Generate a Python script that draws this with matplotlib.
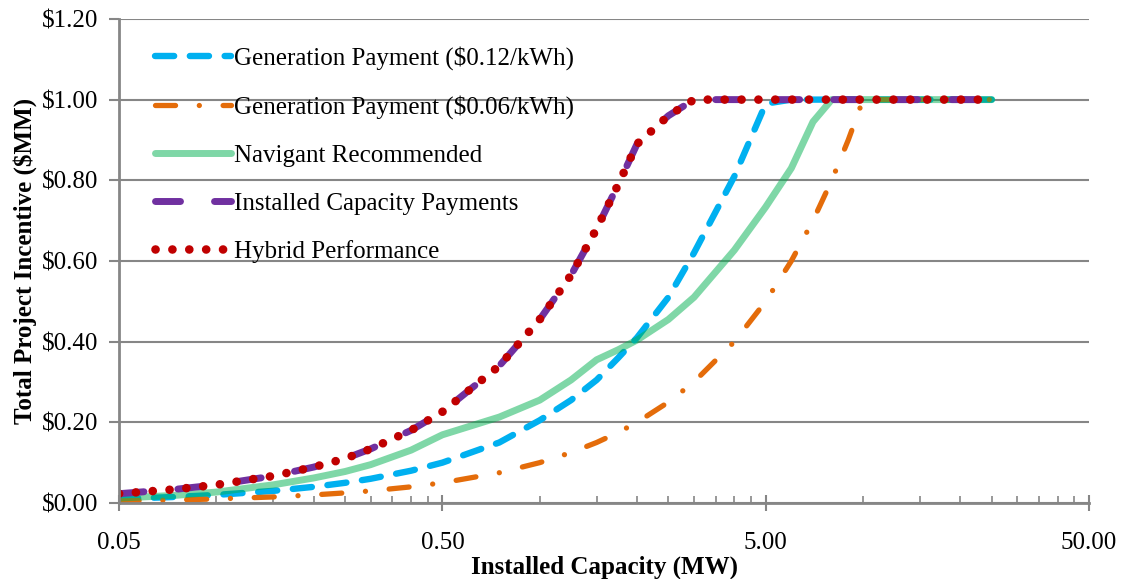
import matplotlib.pyplot as plt

plt.rcParams['font.family'] = ['Liberation Serif', 'DejaVu Serif']

# installed capacity (MW) and total incentive ($MM)
capacity = [0.05, 0.075, 0.1, 0.15, 0.2, 0.25, 0.3, 0.4, 0.5, 0.75, 1.0, 1.25, 1.5, 1.75,
            2.0, 2.5, 3.0, 4.0, 5.0, 6.0, 7.0, 8.0, 9.0, 10.0, 15.0, 20.0, 25.0]
gen_012 = [0.010, 0.015, 0.020, 0.030, 0.040, 0.050, 0.060, 0.080, 0.100, 0.150, 0.205, 0.255, 0.305, 0.360,
           0.410, 0.510, 0.620, 0.810, 0.990, 1.0, 1.0, 1.0, 1.0, 1.0, 1.0, 1.0, 1.0]
gen_006 = [0.005, 0.0075, 0.010, 0.015, 0.020, 0.025, 0.030, 0.040, 0.050, 0.075, 0.100, 0.125, 0.150, 0.175,
           0.200, 0.250, 0.300, 0.400, 0.500, 0.600, 0.700, 0.800, 0.900, 1.0, 1.0, 1.0, 1.0]
navigant = [0.012, 0.019, 0.027, 0.045, 0.062, 0.078, 0.095, 0.131, 0.169, 0.213, 0.255, 0.305, 0.355, 0.380,
            0.404, 0.455, 0.510, 0.627, 0.734, 0.830, 0.945, 1.0, 1.0, 1.0, 1.0, 1.0, 1.0]
capacity_pay = [0.023, 0.034, 0.045, 0.067, 0.089, 0.110, 0.134, 0.180, 0.226, 0.340, 0.455, 0.565, 0.680, 0.790,
                0.890, 0.960, 1.0, 1.0, 1.0, 1.0, 1.0, 1.0, 1.0, 1.0, 1.0, 1.0, 1.0]
hybrid = [0.023, 0.034, 0.045, 0.067, 0.089, 0.110, 0.134, 0.180, 0.226, 0.340, 0.455, 0.565, 0.680, 0.790,
          0.890, 0.960, 1.0, 1.0, 1.0, 1.0, 1.0, 1.0, 1.0, 1.0, 1.0, 1.0, 1.0]

x_ticks = [0.05, 0.5, 5, 50]
x_labels = ['0.05', '0.50', '5.00', '50.00']
y_ticks = [0, 0.2, 0.4, 0.6, 0.8, 1.0, 1.2]
y_labels = ['$0.00', '$0.20', '$0.40', '$0.60', '$0.80', '$1.00', '$1.20']

grey = '#868686'
fs = 18

fig = plt.figure(figsize=(11.23, 5.79), dpi=100)
ax = fig.add_axes([0.106, 0.1313, 0.8638, 0.836])

ax.plot(capacity, gen_012, color='#00B0F0', lw=4.6, linestyle=(0, (3.0, 2.45)),
        dash_capstyle='round', label='Generation Payment ($0.12/kWh)')
ax.plot(capacity, gen_006, color='#E46C0A', lw=3.8, linestyle=(0, (3.8, 4.5, 0.01, 4.5)),
        dash_capstyle='round', label='Generation Payment ($0.06/kWh)')
ax.plot(capacity, navigant, color='#00B050', alpha=0.5, lw=5,
        solid_capstyle='round', label='Navigant Recommended')
ax.plot(capacity, capacity_pay, color='#7030A0', lw=5, linestyle=(0, (3.6, 4.9)),
        dash_capstyle='round', label='Installed Capacity Payments')
ax.plot(capacity, hybrid, color='#C00000', lw=6.2, linestyle=(0, (0.01, 1.95)),
        dash_capstyle='round', label='Hybrid Performance')

ax.set_xscale('log')
ax.set_xlim(0.05, 50)
ax.set_ylim(0, 1.2)

ax.set_xticks(x_ticks)
ax.set_xticklabels(x_labels)
minors = [m * 10.0 ** e for e in (-1, 0, 1) for m in (1, 1.5, 2, 2.5, 3, 3.5, 4, 4.5)]
ax.set_xticks(minors, minor=True)
ax.set_xticklabels([], minor=True)
ax.set_yticks(y_ticks)
ax.set_yticklabels(y_labels)

ax.tick_params(axis='x', which='major', direction='inout', length=12, width=1.5, color=grey,
               labelsize=fs, pad=15)
ax.tick_params(axis='x', which='minor', direction='in', length=5, width=1.2, color=grey)
ax.tick_params(axis='y', which='major', direction='out', length=7, width=1.5, color=grey,
               labelsize=fs, pad=8)

for side in ('top', 'right'):
    ax.spines[side].set_visible(False)
for side in ('left', 'bottom'):
    ax.spines[side].set_color(grey)
    ax.spines[side].set_linewidth(2)

ax.grid(axis='y', color=grey, lw=1.5)
ax.set_axisbelow(True)

ax.set_xlabel('Installed Capacity (MW)', fontsize=fs, fontweight='bold', labelpad=1)
ax.set_ylabel('Total Project Incentive ($MM)', fontsize=fs, fontweight='bold', labelpad=3.5)

ax.legend(loc='upper left', bbox_to_anchor=(0.027, 0.964), frameon=False, fontsize=fs,
          handlelength=3.04, handletextpad=0.12, labelspacing=1.01, borderaxespad=0)

fig.savefig('out.png', dpi=100)
